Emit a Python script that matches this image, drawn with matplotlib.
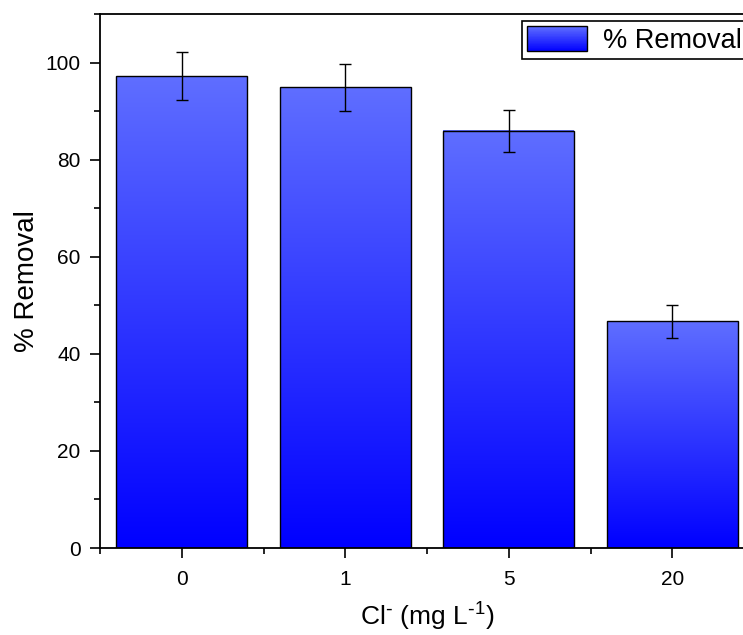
import matplotlib
matplotlib.use("Agg")
import matplotlib.pyplot as plt
import numpy as np
from matplotlib.patches import Rectangle
from matplotlib.legend_handler import HandlerBase
from matplotlib.ticker import MultipleLocator, FixedLocator

plt.rcParams['font.family'] = ['Liberation Sans', 'DejaVu Sans']
plt.rcParams['mathtext.default'] = 'regular'

# chloride dose (mg/L) vs removal efficiency
categories = ['0', '1', '5', '20']
removal = [97.2, 94.9, 85.9, 46.7]
removal_err = [4.9, 4.8, 4.3, 3.35]

c_bottom = np.array([0, 0, 255]) / 255.0
c_top = np.array([95, 110, 255]) / 255.0


def gradient(n=256):
    t = np.linspace(0, 1, n)[:, None]
    return (c_bottom + (c_top - c_bottom) * t)[:, None, :]


class GradientHandler(HandlerBase):
    # legend key drawn as a stack of thin strips
    def create_artists(self, legend, orig_handle, xdescent, ydescent,
                       width, height, fontsize, trans):
        arts = []
        n = 40
        for i in range(n):
            f = i / (n - 1)
            col = c_bottom + (c_top - c_bottom) * f
            arts.append(Rectangle((-xdescent, -ydescent + height * i / n),
                                  width, height / n + 0.3, facecolor=col,
                                  edgecolor='none', transform=trans))
        arts.append(Rectangle((-xdescent, -ydescent), width, height,
                              facecolor='none', edgecolor='black', lw=1.0,
                              transform=trans))
        return arts


fig = plt.figure(figsize=(7.43, 6.35), dpi=100)
ax = fig.add_axes([100 / 743, 87 / 635, 654 / 743, 534 / 635])

x = np.arange(len(categories))
width = 0.8
bars = ax.bar(x, removal, width=width, facecolor='none', edgecolor='black',
              linewidth=1.0, zorder=3, label='% Removal')
for xi, h in zip(x, removal):
    ax.imshow(gradient(), extent=(xi - width / 2, xi + width / 2, 0, h),
              origin='lower', aspect='auto', zorder=2, interpolation='bilinear')

ax.errorbar(x, removal, yerr=removal_err, fmt='none', ecolor='black',
            elinewidth=1.0, capsize=4, capthick=1.0, zorder=4)

ax.set_xlim(-0.5, len(categories) - 0.5)
ax.set_ylim(0, 110)
ax.set_xticks(x)
ax.set_xticklabels(categories)
ax.xaxis.set_minor_locator(FixedLocator(np.arange(-0.5, len(categories), 1.0)))
ax.yaxis.set_major_locator(MultipleLocator(20))
ax.yaxis.set_minor_locator(MultipleLocator(10))

ax.tick_params(axis='both', which='major', direction='out', length=7,
               width=1.2, labelsize=15)
ax.tick_params(axis='both', which='minor', direction='out', length=4, width=1.2)
ax.tick_params(top=False, right=False, which='both')
ax.tick_params(axis='x', which='major', pad=9)
ax.tick_params(axis='y', which='major', pad=7)
for s in ax.spines.values():
    s.set_linewidth(1.3)

ax.set_xlabel(r'Cl$^{\text{-}}$ (mg L$^{\text{-}1}$)', fontsize=19, labelpad=8)
ax.set_ylabel('% Removal', fontsize=20, labelpad=4)

leg = ax.legend(handles=[bars], labels=['% Removal'], loc='upper right',
                bbox_to_anchor=(1.0, 1.0), borderaxespad=0.25, fontsize=19.5,
                handler_map={type(bars): GradientHandler()},
                fancybox=False, edgecolor='black', framealpha=1,
                handlelength=2.2, handleheight=1.05, handletextpad=0.6,
                borderpad=0.2)
leg.get_frame().set_linewidth(1.2)

fig.savefig('out.png', dpi=100)
